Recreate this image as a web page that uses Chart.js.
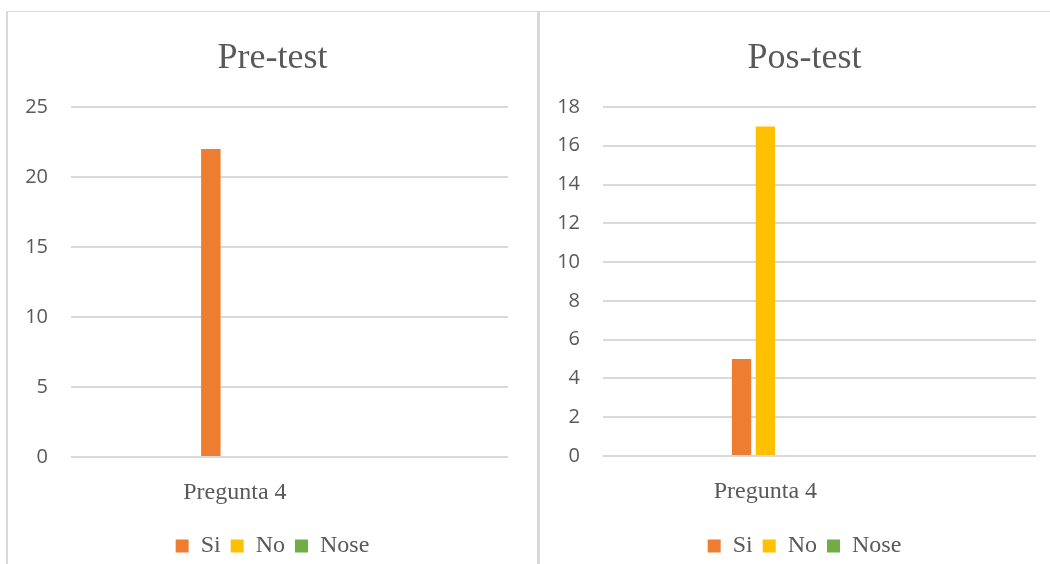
<!DOCTYPE html>
<html>
<head>
<meta charset="utf-8">
<script src="https://cdn.jsdelivr.net/npm/chart.js@4/dist/chart.umd.min.js"></script>
<style>
  html, body { margin: 0; padding: 0; background: #fff; }
  body { width: 1050px; height: 564px; overflow: hidden; position: relative; }
  .panel { position: absolute; top: 11px; height: 580px; border-top: 1px solid #d9d9d9; }
  #panelPre { left: 6px; width: 529px; border-left: 2px solid #d9d9d9; border-right: 2px solid #d9d9d9; }
  #panelPos { left: 539px; width: 529px; border-left: 1px solid #d9d9d9; }
  .panel .box { position: absolute; left: 0; top: 0; width: 529px; height: 560px; }
</style>
</head>
<body>
<div class="panel" id="panelPre"><div class="box"><canvas id="preChart"></canvas></div></div>
<div class="panel" id="panelPos"><div class="box"><canvas id="posChart"></canvas></div></div>
<script>
// Data
const categories = ['Pregunta 4'];
const seriesNames = ['Si', 'No', 'Nose'];
const preSi   = [22];
const preNo   = [0];
const preNose = [0];
const posSi   = [5];
const posNo   = [17];
const posNose = [0];

const colors = ['#ED7D31', '#FFC000', '#70AD47'];
const textCol = '#595959';
const gridCol = '#d9d9d9';
const serif = '"Liberation Serif", "Times New Roman", serif';
const sans  = '"Open Sans", sans-serif';

function points(arr) {
  return arr.map((v, i) => ({ x: i, y: v }));
}

function makeChart(id, title, series, yMax, yStep, rightGap, xHeight) {
  const ctx = document.getElementById(id).getContext('2d');
  return new Chart(ctx, {
    type: 'bar',
    data: {
      datasets: series.map((s, i) => ({
        label: seriesNames[i],
        data: points(s),
        backgroundColor: colors[i],
        borderWidth: 0,
        categoryPercentage: 0.165,
        barPercentage: 0.81,
      })),
    },
    options: {
      responsive: true,
      maintainAspectRatio: false,
      animation: false,
      layout: { padding: { left: 0, right: 0, top: 0, bottom: 4 } },
      plugins: {
        tooltip: { enabled: false },
        title: {
          display: true,
          text: title,
          color: textCol,
          font: { family: serif, size: 36, weight: 'normal', lineHeight: 1.2 },
          padding: { top: 25, bottom: 26.8 },
        },
        legend: {
          position: 'bottom',
          labels: {
            color: textCol,
            boxWidth: 13,
            boxHeight: 13,
            padding: 10,
            font: { family: serif, size: 24 },
          },
        },
      },
      scales: {
        x: {
          type: 'linear',
          min: -0.75,
          max: 1.25,
          offset: false,
          grid: { display: false, drawTicks: false },
          border: { display: false },
          afterBuildTicks: s => { s.ticks = categories.map((c, i) => ({ value: i })); },
          afterFit: s => { s.height = xHeight; },
          ticks: {
            color: textCol,
            font: { family: serif, size: 24 },
            padding: 21,
            maxRotation: 0,
            autoSkip: false,
            callback: v => categories[v] ?? '',
          },
        },
        y: {
          min: 0,
          max: yMax,
          grid: { color: gridCol, lineWidth: 2, drawTicks: false },
          border: { display: false },
          afterFit: s => { s.width = 63; },
          ticks: {
            stepSize: yStep,
            color: textCol,
            font: { family: sans, size: 20 },
            padding: 23,
          },
        },
        gap: {
          type: 'linear',
          position: 'right',
          display: true,
          grid: { display: false, drawTicks: false },
          border: { display: false },
          ticks: { display: false },
          afterFit: s => { s.width = rightGap; },
        },
      },
    },
  });
}

makeChart('preChart', 'Pre-test', [preSi, preNo, preNose], 25, 5, 29, 67);
makeChart('posChart', 'Pos-test', [posSi, posNo, posNose], 18, 2, 33, 68);
</script>
</body>
</html>
